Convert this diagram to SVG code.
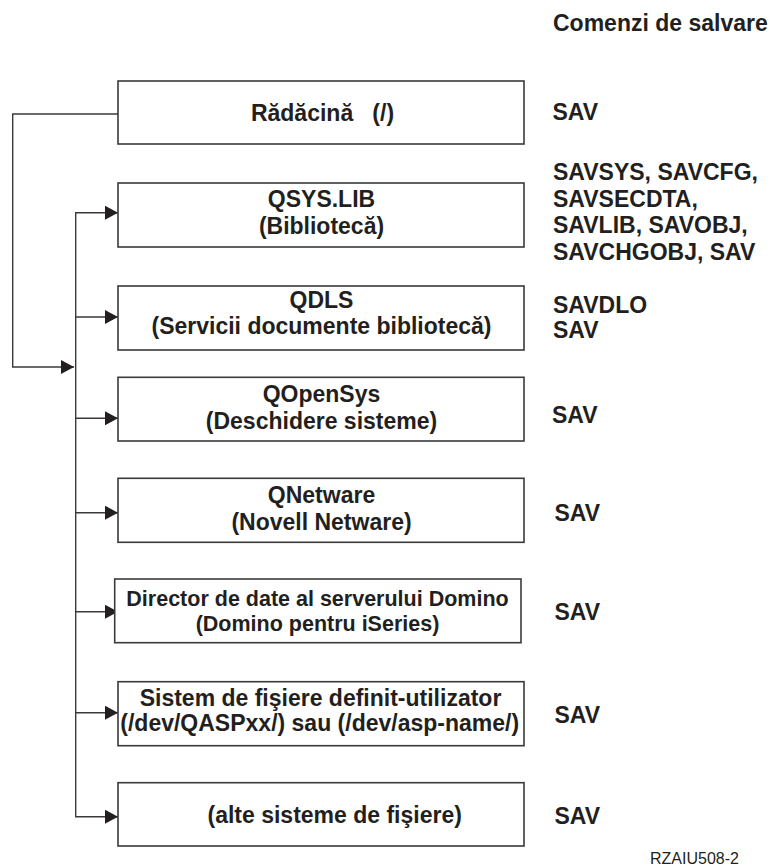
<svg xmlns="http://www.w3.org/2000/svg" width="777" height="865" viewBox="0 0 777 865">
<style>
.box{fill:#fff;stroke:#3a3a3a;stroke-width:1.6}
.t{font-family:"Liberation Sans",Arial,sans-serif;font-weight:bold;font-size:23px;fill:#231f20}
.c{text-anchor:middle}
.s{font-size:21.5px}
.ln{fill:none;stroke:#3a3a3a;stroke-width:1.4}
.id{font-family:"Liberation Sans",Arial,sans-serif;font-size:16px;fill:#231f20}
</style>
<defs>
<marker id="ah" markerWidth="13" markerHeight="14" refX="13" refY="7" orient="auto" markerUnits="userSpaceOnUse">
<path d="M0,0 L13,7 L0,14 Z" fill="#231f20"/>
</marker>
</defs>
<g id="connectors">
<polyline class="ln" points="118,114 12.7,114 12.7,367 74,367" marker-end="url(#ah)"/>
<line class="ln" x1="75.7" y1="212.7" x2="75.7" y2="816.7"/>
<line class="ln" x1="75" y1="212.7" x2="118" y2="212.7" marker-end="url(#ah)"/>
<line class="ln" x1="75.7" y1="317" x2="118" y2="317" marker-end="url(#ah)"/>
<line class="ln" x1="75.7" y1="418.3" x2="118" y2="418.3" marker-end="url(#ah)"/>
<line class="ln" x1="75.7" y1="512.7" x2="118" y2="512.7" marker-end="url(#ah)"/>
<line class="ln" x1="75.7" y1="611.7" x2="118" y2="611.7" marker-end="url(#ah)"/>
<line class="ln" x1="75.7" y1="712.7" x2="118" y2="712.7" marker-end="url(#ah)"/>
<line class="ln" x1="75" y1="816.7" x2="118" y2="816.7" marker-end="url(#ah)"/>
</g>
<text class="t" x="553" y="31">Comenzi de salvare</text>
<g id="root">
<rect class="box" x="118" y="81" width="406" height="63"/>
<text class="t c" x="322.5" y="121" xml:space="preserve">Rădăcină   (/)</text>
<text class="t" x="552.5" y="120">SAV</text>
</g>
<g id="qsys">
<rect class="box" x="118" y="183" width="406" height="64"/>
<text class="t c" x="321.5" y="207.3">QSYS.LIB</text>
<text class="t c" x="321.5" y="233.5">(Bibliotecă)</text>
<text class="t" x="553" y="180">SAVSYS, SAVCFG,</text>
<text class="t" x="553" y="206.6">SAVSECDTA,</text>
<text class="t" x="553" y="233.2">SAVLIB, SAVOBJ,</text>
<text class="t" x="553" y="259.5">SAVCHGOBJ, SAV</text>
</g>
<g id="qdls">
<rect class="box" x="118" y="286" width="406" height="64"/>
<text class="t c" x="321.5" y="308.3">QDLS</text>
<text class="t c" x="321.5" y="334">(Servicii documente bibliotecă)</text>
<text class="t" x="553" y="312.8">SAVDLO</text>
<text class="t" x="553" y="338.4">SAV</text>
</g>
<g id="qopensys">
<rect class="box" x="118" y="377.3" width="406" height="63.7"/>
<text class="t c" x="321.5" y="402.3">QOpenSys</text>
<text class="t c" x="321.5" y="429.3">(Deschidere sisteme)</text>
<text class="t" x="552" y="423.3">SAV</text>
</g>
<g id="qnetware">
<rect class="box" x="118" y="478.3" width="406" height="64"/>
<text class="t c" x="321.5" y="503.3">QNetware</text>
<text class="t c" x="321.5" y="530">(Novell Netware)</text>
<text class="t" x="554.5" y="521">SAV</text>
</g>
<g id="domino">
<rect class="box" x="114.7" y="579" width="406.3" height="63.7"/>
<text class="t c s" x="317.5" y="606">Director de date al serverului Domino</text>
<text class="t c s" x="317.5" y="630.7">(Domino pentru iSeries)</text>
<text class="t" x="554.5" y="620.3">SAV</text>
</g>
<g id="udfs">
<rect class="box" x="118" y="681.7" width="406" height="64"/>
<text class="t c" x="320.5" y="705.7">Sistem de fişiere definit-utilizator</text>
<text class="t c" x="319.7" y="731">(/dev/QASPxx/) sau (/dev/asp-name/)</text>
<text class="t" x="554.5" y="722.5">SAV</text>
</g>
<g id="other">
<rect class="box" x="118" y="782.7" width="406" height="63.3"/>
<text class="t c" x="334.7" y="823.3">(alte sisteme de fişiere)</text>
<text class="t" x="554.5" y="824.3">SAV</text>
</g>
<text class="id" x="650" y="863.5">RZAIU508-2</text>
</svg>
